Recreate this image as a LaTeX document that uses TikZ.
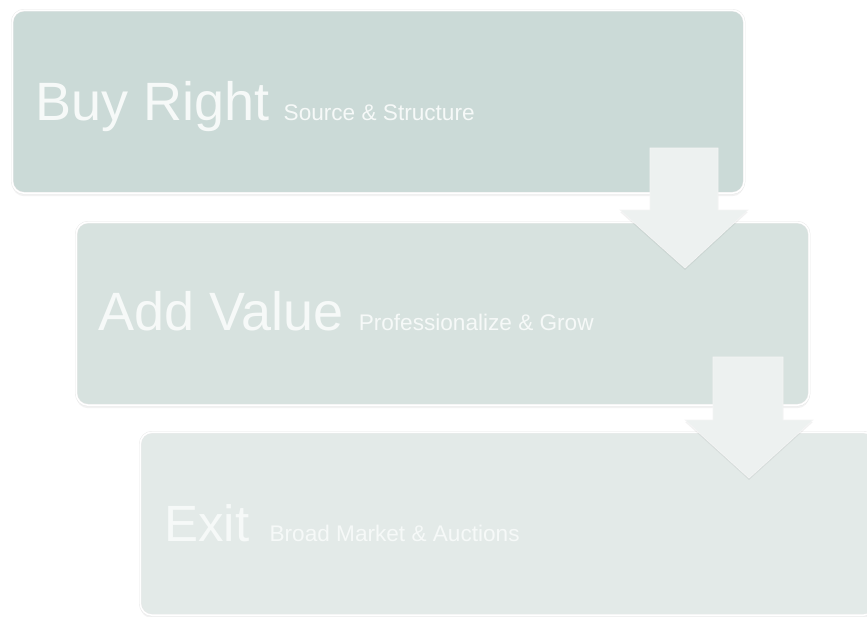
\documentclass[tikz,border=0pt]{standalone}
\usepackage{fontspec}
\setmainfont{Liberation Sans}
\usetikzlibrary{shadows,positioning}
\definecolor{stageA}{HTML}{CBDAD7}
\definecolor{stageB}{HTML}{D7E2DF}
\definecolor{stageC}{HTML}{E3EAE8}
\definecolor{arrowfill}{HTML}{EDF1F0}
\definecolor{titletext}{HTML}{F6F9F8}
\tikzset{
  stage/.style={draw=black!9, double=white, double distance=1.6pt, rounded corners=12pt, anchor=north west,
    minimum height=183pt, inner sep=0pt,
    drop shadow={shadow xshift=0pt, shadow yshift=-3pt, opacity=0.05, fill=black}},
  title/.style={anchor=base west, inner sep=0pt, text=titletext, font=\fontsize{54}{54}\selectfont},
  subtitle/.style={anchor=base west, inner sep=0pt, text=titletext, font=\fontsize{22.6}{23}\selectfont},
  downarrow/.style={fill=arrowfill, draw=black!4, line width=0.6pt,
    drop shadow={shadow xshift=0pt, shadow yshift=-2pt, opacity=0.05, fill=black}}
}
\begin{document}
\begin{tikzpicture}[x=1pt, y=-1pt]
		%%%%% START %%%%%
		\useasboundingbox[fill=white] (0, 0) rectangle (867, 616);
		
		\node[stage, fill=stageA, minimum width=732pt] (buy) at (12, 10) {};
		\node[stage, fill=stageB, minimum width=733pt] (add) at (76, 222) {};
		\node[stage, fill=stageC, minimum width=735pt] (exit) at (140, 432) {};
		
		\node[title] (buyT) at (35, 120) {Buy Right};
		\node[subtitle, right=14pt of buyT.base east, anchor=base west] (buyS) {Source \& Structure};
		
		\node[title] (addT) at (98, 330) {Add Value};
		\node[subtitle, right=15pt of addT.base east, anchor=base west] (addS) {Professionalize \& Grow};
		
		\node[title, font=\fontsize{51}{51}\selectfont] (exitT) at (164, 541) {Exit};
		\node[subtitle, right=20pt of exitT.base east, anchor=base west] (exitS) {Broad Market \& Auctions};
		
		% arrows between the stages
		\fill[downarrow] (650, 148) -- (718, 148) -- (718, 210) -- (748, 210) -- (685, 268) -- (620, 210) -- (650, 210) -- cycle;
		\fill[downarrow] (713, 357) -- (783, 357) -- (783, 420) -- (813, 420) -- (749, 478) -- (685, 420) -- (713, 420) -- cycle;
		
		%%%%% END %%%%%
\end{tikzpicture}
\end{document}
